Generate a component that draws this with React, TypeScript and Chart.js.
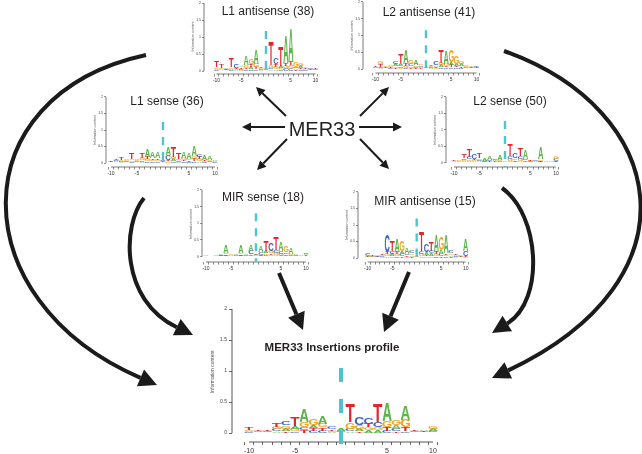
import React, { useEffect, useRef } from "react";
import { Chart, registerables } from "chart.js";
Chart.register(...registerables);

// ---------- data ----------
const POSITIONS = [-10, -9, -8, -7, -6, -5, -4, -3, -2, -1, 0, 1, 2, 3, 4, 5, 6, 7, 8, 9, 10];
const X_LABELLED = [-10, -5, 5, 10];
const Y_TICKS = [0, 0.5, 1, 1.5, 2];
const BASES = ["A", "C", "G", "T"];
const BASE_COLORS: Record<string, string> = { A: "#5cb547", C: "#3a62c4", G: "#f4a41e", T: "#e2262c" };
const Y_TITLE = "Information content";
const CENTER_LABEL = "MER33";

const L1_ANTISENSE_TITLE = "L1 antisense (38)";
const L1_ANTISENSE_A = [0.04, 0.03, 0.05, 0.04, 0.03, 0.05, 0.25, 0.06, 0.40, 0.03, 0.02, 0.05, 0.05, 0.06, 0.80, 1.00, 0.05, 0.06, 0.04, 0.03, 0.02];
const L1_ANTISENSE_C = [0.03, 0.02, 0.03, 0.03, 0.10, 0.04, 0.05, 0.05, 0.06, 0.03, 0.02, 0.05, 0.20, 0.05, 0.08, 0.07, 0.05, 0.05, 0.03, 0.03, 0.02];
const L1_ANTISENSE_G = [0.04, 0.03, 0.02, 0.05, 0.03, 0.03, 0.08, 0.15, 0.10, 0.03, 0.02, 0.07, 0.06, 0.05, 0.08, 0.10, 0.15, 0.06, 0.03, 0.02, 0.02];
const L1_ANTISENSE_T = [0.20, 0.12, 0.02, 0.25, 0.04, 0.04, 0.05, 0.08, 0.06, 0.04, 0.02, 0.70, 0.08, 0.55, 0.08, 0.10, 0.03, 0.05, 0.03, 0.02, 0.02];

const L2_ANTISENSE_TITLE = "L2 antisense (41)";
const L2_ANTISENSE_A = [0.03, 0.03, 0.03, 0.05, 0.06, 0.08, 0.40, 0.05, 0.15, 0.04, 0.02, 0.03, 0.05, 0.06, 0.40, 0.08, 0.06, 0.06, 0.04, 0.03, 0.03];
const L2_ANTISENSE_C = [0.02, 0.04, 0.02, 0.03, 0.06, 0.05, 0.04, 0.06, 0.04, 0.04, 0.01, 0.03, 0.10, 0.05, 0.05, 0.06, 0.05, 0.04, 0.03, 0.02, 0.03];
const L2_ANTISENSE_G = [0.02, 0.08, 0.03, 0.04, 0.05, 0.04, 0.06, 0.10, 0.05, 0.04, 0.02, 0.03, 0.03, 0.06, 0.06, 0.36, 0.25, 0.06, 0.03, 0.03, 0.02];
const L2_ANTISENSE_T = [0.03, 0.07, 0.02, 0.03, 0.03, 0.25, 0.07, 0.04, 0.03, 0.03, 0.01, 0.03, 0.04, 0.40, 0.05, 0.06, 0.05, 0.04, 0.02, 0.02, 0.02];

const L1_SENSE_TITLE = "L1 sense (36)";
const L1_SENSE_A = [0.02, 0.03, 0.03, 0.04, 0.05, 0.04, 0.04, 0.25, 0.18, 0.20, 0.03, 0.25, 0.06, 0.04, 0.20, 0.18, 0.30, 0.06, 0.15, 0.12, 0.03];
const L1_SENSE_C = [0.01, 0.03, 0.03, 0.03, 0.04, 0.03, 0.04, 0.05, 0.05, 0.05, 0.03, 0.14, 0.05, 0.04, 0.05, 0.04, 0.06, 0.07, 0.03, 0.03, 0.02];
const L1_SENSE_G = [0.01, 0.02, 0.03, 0.03, 0.04, 0.03, 0.06, 0.06, 0.05, 0.05, 0.02, 0.05, 0.06, 0.04, 0.06, 0.05, 0.08, 0.06, 0.03, 0.03, 0.02];
const L1_SENSE_T = [0.02, 0.04, 0.07, 0.02, 0.20, 0.02, 0.15, 0.06, 0.05, 0.05, 0.02, 0.05, 0.30, 0.19, 0.05, 0.04, 0.06, 0.06, 0.03, 0.02, 0.01];

const L2_SENSE_TITLE = "L2 sense (50)";
const L2_SENSE_A = [0.02, 0.02, 0.04, 0.05, 0.04, 0.04, 0.06, 0.12, 0.03, 0.14, 0.01, 0.05, 0.05, 0.05, 0.28, 0.02, 0.02, 0.35, 0.02, 0.02, 0.03];
const L2_SENSE_C = [0.01, 0.01, 0.05, 0.06, 0.17, 0.05, 0.03, 0.03, 0.03, 0.03, 0.01, 0.08, 0.16, 0.08, 0.05, 0.02, 0.02, 0.03, 0.01, 0.01, 0.06];
const L2_SENSE_G = [0.01, 0.02, 0.04, 0.05, 0.04, 0.05, 0.02, 0.02, 0.02, 0.03, 0.02, 0.07, 0.05, 0.07, 0.04, 0.02, 0.01, 0.04, 0.01, 0.01, 0.07];
const L2_SENSE_T = [0.02, 0.01, 0.11, 0.24, 0.04, 0.15, 0.01, 0.02, 0.02, 0.02, 0.01, 0.35, 0.03, 0.25, 0.03, 0.02, 0.01, 0.03, 0.01, 0.01, 0.03];

const MIR_SENSE_TITLE = "MIR sense (18)";
const MIR_SENSE_A = [0.02, 0.01, 0.02, 0.03, 0.22, 0.02, 0.05, 0.24, 0.03, 0.20, 0.04, 0.20, 0.06, 0.05, 0.06, 0.25, 0.05, 0.18, 0.03, 0.02, 0.03];
const MIR_SENSE_C = [0.01, 0.01, 0.01, 0.02, 0.04, 0.01, 0.02, 0.04, 0.02, 0.10, 0.02, 0.08, 0.05, 0.25, 0.08, 0.08, 0.05, 0.03, 0.02, 0.01, 0.03];
const MIR_SENSE_G = [0.01, 0.01, 0.01, 0.01, 0.04, 0.02, 0.02, 0.05, 0.02, 0.05, 0.02, 0.03, 0.05, 0.06, 0.06, 0.06, 0.18, 0.03, 0.02, 0.01, 0.02];
const MIR_SENSE_T = [0.01, 0.01, 0.01, 0.02, 0.03, 0.01, 0.01, 0.03, 0.01, 0.03, 0.02, 0.03, 0.30, 0.05, 0.38, 0.03, 0.03, 0.02, 0.01, 0.01, 0.02];

const MIR_ANTISENSE_TITLE = "MIR antisense (15)";
const MIR_ANTISENSE_A = [0.03, 0.02, 0.02, 0.03, 0.06, 0.07, 0.40, 0.08, 0.20, 0.05, 0.02, 0.05, 0.08, 0.08, 0.50, 0.10, 0.55, 0.05, 0.03, 0.03, 0.36];
const MIR_ANTISENSE_C = [0.08, 0.02, 0.03, 0.03, 0.50, 0.08, 0.06, 0.07, 0.05, 0.06, 0.01, 0.08, 0.25, 0.08, 0.06, 0.08, 0.05, 0.06, 0.03, 0.02, 0.14];
const MIR_ANTISENSE_G = [0.02, 0.02, 0.03, 0.03, 0.06, 0.06, 0.06, 0.33, 0.04, 0.05, 0.02, 0.07, 0.05, 0.06, 0.06, 0.40, 0.05, 0.05, 0.03, 0.03, 0.03];
const MIR_ANTISENSE_T = [0.02, 0.02, 0.02, 0.03, 0.06, 0.32, 0.06, 0.05, 0.04, 0.04, 0.01, 0.60, 0.05, 0.28, 0.06, 0.05, 0.05, 0.04, 0.03, 0.02, 0.03];

const MER33_TITLE = "MER33 Insertions profile";
const MER33_A = [0.02, 0.02, 0.01, 0.03, 0.04, 0.05, 0.20, 0.05, 0.13, 0.02, 0.03, 0.03, 0.04, 0.04, 0.04, 0.30, 0.06, 0.22, 0.01, 0.02, 0.03];
const MER33_C = [0.015, 0.01, 0.01, 0.03, 0.07, 0.03, 0.05, 0.04, 0.04, 0.03, 0.01, 0.04, 0.12, 0.10, 0.08, 0.04, 0.04, 0.03, 0.01, 0.01, 0.02];
const MER33_G = [0.02, 0.01, 0.01, 0.03, 0.05, 0.03, 0.08, 0.10, 0.06, 0.02, 0.01, 0.10, 0.06, 0.05, 0.05, 0.10, 0.09, 0.12, 0.01, 0.01, 0.03];
const MER33_T = [0.03, 0.02, 0.015, 0.07, 0.03, 0.14, 0.04, 0.04, 0.05, 0.02, 0.01, 0.30, 0.03, 0.06, 0.30, 0.06, 0.03, 0.06, 0.02, 0.01, 0.01];

// ---------- layout (pixel geometry, styles) ----------
type Geom = {
  yAxisPx: number; zeroPx: number; ux: number; y0: number; uy: number; axisY: number;
  titleX: number; titleY: number; big: boolean; dashTop: number;
};
type PanelSpec = { title: string; counts: Record<string, number[]>; g: Geom };

const FONT = '"Liberation Sans", Arial, Helvetica, sans-serif';
const DASH_COLOR = "#4fc3cf";
const INK = "#231f20";

const PANELS: PanelSpec[] = [
  { title: L1_ANTISENSE_TITLE, counts: { A: L1_ANTISENSE_A, C: L1_ANTISENSE_C, G: L1_ANTISENSE_G, T: L1_ANTISENSE_T },
    g: { yAxisPx: 204, zeroPx: 266, ux: 4.95, y0: 71, uy: 34, axisY: 74, titleX: 268, titleY: 12, big: false, dashTop: 1.18 } },
  { title: L2_ANTISENSE_TITLE, counts: { A: L2_ANTISENSE_A, C: L2_ANTISENSE_C, G: L2_ANTISENSE_G, T: L2_ANTISENSE_T },
    g: { yAxisPx: 363, zeroPx: 426, ux: 5.05, y0: 69, uy: 33.5, axisY: 73, titleX: 429, titleY: 13, big: false, dashTop: 1.16 } },
  { title: L1_SENSE_TITLE, counts: { A: L1_SENSE_A, C: L1_SENSE_C, G: L1_SENSE_G, T: L1_SENSE_T },
    g: { yAxisPx: 106, zeroPx: 163, ux: 5.2, y0: 163, uy: 33, axisY: 167, titleX: 167, titleY: 102, big: false, dashTop: 1.24 } },
  { title: L2_SENSE_TITLE, counts: { A: L2_SENSE_A, C: L2_SENSE_C, G: L2_SENSE_G, T: L2_SENSE_T },
    g: { yAxisPx: 446, zeroPx: 505, ux: 5.1, y0: 162.7, uy: 33, axisY: 167, titleX: 510, titleY: 102, big: false, dashTop: 1.26 } },
  { title: MIR_SENSE_TITLE, counts: { A: MIR_SENSE_A, C: MIR_SENSE_C, G: MIR_SENSE_G, T: MIR_SENSE_T },
    g: { yAxisPx: 202, zeroPx: 256, ux: 5.0, y0: 256.7, uy: 33.4, axisY: 262, titleX: 263, titleY: 198, big: false, dashTop: 1.3 } },
  { title: MIR_ANTISENSE_TITLE, counts: { A: MIR_ANTISENSE_A, C: MIR_ANTISENSE_C, G: MIR_ANTISENSE_G, T: MIR_ANTISENSE_T },
    g: { yAxisPx: 358, zeroPx: 416.7, ux: 4.9, y0: 258, uy: 33, axisY: 262, titleX: 425, titleY: 202, big: false, dashTop: 1.2 } },
  { title: MER33_TITLE, counts: { A: MER33_A, C: MER33_C, G: MER33_G, T: MER33_T },
    g: { yAxisPx: 232, zeroPx: 341, ux: 9.2, y0: 433, uy: 62, axisY: 442, titleX: 332, titleY: 348, big: true, dashTop: 1.05 } },
];

function computeLayout(g: Geom) {
  const yAxisW0 = g.big ? 24 : 15;
  const xAxisH0 = g.big ? 16 : 12;
  const xMin = -(g.zeroPx - g.yAxisPx) / g.ux;
  const xMax = 10.8;
  const yMin = -(g.axisY - g.y0) / g.uy;
  const yMax = 2.12;
  const chartW = (xMax - xMin) * g.ux;
  const chartTop = g.y0 - yMax * g.uy;
  const chartH = g.axisY - chartTop;
  const left = Math.floor(g.yAxisPx - yAxisW0);
  const yAxisW = g.yAxisPx - left;
  const top = Math.floor(chartTop - 6);
  const padTop = chartTop - top;
  const width = Math.ceil(yAxisW + chartW + 8);
  const padRight = width - yAxisW - chartW;
  const height = Math.ceil(padTop + chartH + xAxisH0);
  const xAxisH = height - padTop - chartH;
  return { xMin, xMax, yMin, yMax, left, top, width, height, yAxisW, xAxisH, padTop, padRight };
}

function buildRanks(counts: Record<string, number[]>) {
  const ranks: { x: number; y: number }[][] = [[], [], [], []];
  const letters: string[][] = [[], [], [], []];
  POSITIONS.forEach((p, j) => {
    const items = BASES.map((b) => ({ b, h: counts[b][j] })).sort((a, c) => a.h - c.h);
    items.forEach((it, r) => {
      ranks[r].push({ x: p, y: it.h });
      letters[r].push(it.b);
    });
  });
  return { ranks, letters };
}

function LogoPanel({ spec }: { spec: PanelSpec }) {
  const ref = useRef<HTMLCanvasElement>(null);
  const L = computeLayout(spec.g);
  useEffect(() => {
    const canvas = ref.current;
    if (!canvas) return;
    const g = spec.g;
    const { ranks, letters } = buildRanks(spec.counts);
    const tickFont = g.big ? 7 : 5;
    const yFont = g.big ? 5 : 3.5;

    const logoPlugin = {
      id: "logoLetters",
      afterDatasetsDraw(chart: any) {
        const ctx = chart.ctx as CanvasRenderingContext2D;
        ctx.save();
        ctx.font = `bold 100px ${FONT}`;
        ctx.textAlign = "left";
        ctx.textBaseline = "alphabetic";
        chart.data.datasets.forEach((_ds: any, r: number) => {
          const meta = chart.getDatasetMeta(r);
          meta.data.forEach((el: any, j: number) => {
            const { x, y, base, width } = el.getProps(["x", "y", "base", "width"], true);
            const h = base - y;
            if (h < 0.3) return;
            const letter = letters[r][j];
            const m = ctx.measureText(letter);
            const gl = m.actualBoundingBoxLeft;
            const gw = m.actualBoundingBoxLeft + m.actualBoundingBoxRight;
            const ga = m.actualBoundingBoxAscent;
            const gh = m.actualBoundingBoxAscent + m.actualBoundingBoxDescent;
            ctx.save();
            ctx.translate(x - width / 2, y);
            ctx.scale(width / gw, h / gh);
            ctx.fillStyle = BASE_COLORS[letter];
            ctx.fillText(letter, gl, ga);
            ctx.restore();
          });
        });
        ctx.restore();
      },
      afterDraw(chart: any) {
        const ctx = chart.ctx as CanvasRenderingContext2D;
        const xs = chart.scales.x;
        const ys = chart.scales.y;
        const area = chart.chartArea;
        ctx.save();
        ctx.strokeStyle = "#444";
        ctx.lineWidth = g.big ? 0.9 : 0.7;
        ctx.beginPath();
        ctx.moveTo(xs.getPixelForValue(POSITIONS[0]), area.bottom);
        ctx.lineTo(xs.getPixelForValue(POSITIONS[POSITIONS.length - 1]), area.bottom);
        ctx.moveTo(area.left, ys.getPixelForValue(Y_TICKS[0]));
        ctx.lineTo(area.left, ys.getPixelForValue(Y_TICKS[Y_TICKS.length - 1]));
        ctx.stroke();
        ctx.strokeStyle = DASH_COLOR;
        ctx.lineWidth = g.big ? 4 : 2.4;
        ctx.setLineDash(g.big ? [14, 17] : [8, 7]);
        ctx.beginPath();
        const zx = xs.getPixelForValue(0);
        ctx.moveTo(zx, ys.getPixelForValue(g.dashTop));
        ctx.lineTo(zx, area.bottom + (g.big ? 6 : 0));
        ctx.stroke();
        ctx.setLineDash([]);
        ctx.fillStyle = INK;
        ctx.font = g.big ? `bold 11.5px ${FONT}` : `12px ${FONT}`;
        ctx.textAlign = "center";
        ctx.textBaseline = "middle";
        ctx.fillText(spec.title, g.titleX - L.left, g.titleY - L.top);
        ctx.restore();
      },
    };

    const chart = new Chart(canvas, {
      type: "bar",
      data: {
        datasets: ranks.map((data, r) => ({
          label: "rank" + r,
          data,
          backgroundColor: "rgba(0,0,0,0)",
          borderWidth: 0,
          barPercentage: 1,
          categoryPercentage: 1,
        })),
      },
      options: {
        responsive: false,
        animation: false,
        devicePixelRatio: 1,
        events: [],
        layout: { padding: { top: L.padTop, right: L.padRight, left: 0, bottom: 0 } },
        plugins: { legend: { display: false }, tooltip: { enabled: false }, title: { display: false } },
        scales: {
          x: {
            type: "linear",
            min: L.xMin,
            max: L.xMax,
            stacked: true,
            offset: false,
            afterBuildTicks: (s: any) => {
              s.ticks = POSITIONS.map((v) => ({ value: v }));
            },
            afterFit: (s: any) => {
              s.height = L.xAxisH;
            },
            grid: { display: true, drawOnChartArea: false, drawTicks: true, tickLength: g.big ? 3 : 2.5, color: "#444", lineWidth: g.big ? 0.8 : 0.6 },
            border: { display: false },
            ticks: {
              autoSkip: false,
              maxRotation: 0,
              color: "#333",
              padding: g.big ? 1.5 : 1,
              font: { size: tickFont, family: FONT },
              callback: (v: any) => (X_LABELLED.includes(Number(v)) ? String(v) : ""),
            },
          },
          y: {
            type: "linear",
            min: L.yMin,
            max: L.yMax,
            stacked: true,
            afterBuildTicks: (s: any) => {
              s.ticks = Y_TICKS.map((v) => ({ value: v }));
            },
            afterFit: (s: any) => {
              s.width = L.yAxisW;
            },
            grid: { display: true, drawOnChartArea: false, drawTicks: true, tickLength: g.big ? 3 : 2, color: "#444", lineWidth: g.big ? 0.8 : 0.6 },
            border: { display: false },
            ticks: {
              autoSkip: false,
              color: "#444",
              padding: g.big ? 2 : 1,
              font: { size: yFont, family: FONT },
              callback: (v: any) => String(v),
            },
            title: {
              display: true,
              text: Y_TITLE,
              color: "#555",
              font: { size: yFont, family: FONT },
              padding: { top: 2, bottom: 0 },
            },
          },
        },
      } as any,
      plugins: [logoPlugin],
    });
    return () => chart.destroy();
  }, [spec]);

  return (
    <canvas
      ref={ref}
      width={L.width}
      height={L.height}
      style={{ position: "absolute", left: L.left, top: L.top, width: L.width, height: L.height }}
    />
  );
}

// ---------- arrows (overlay) ----------
type Pt = [number, number];
const CURVED_ARROWS: Pt[][] = [
  [[146, 55], [-40, 95], [-40, 300], [157, 385]],
  [[144, 198], [122, 225], [120, 300], [193, 335]],
  [[504, 51], [670, 110], [700, 280], [492, 378]],
  [[502, 188], [540, 215], [545, 300], [492, 333]],
];
const THICK_STRAIGHT: Pt[][] = [
  [[279, 273], [303, 330]],
  [[409, 272], [384, 332]],
];
const THIN_STRAIGHT: Pt[][] = [
  [[286, 116], [256, 87]],
  [[285, 127], [242, 127]],
  [[287, 139], [257, 170]],
  [[360, 116], [389, 87]],
  [[359, 127], [402, 127]],
  [[360, 139], [389, 169]],
];

function head(tip: Pt, from: Pt, len: number, hw: number) {
  const dx = tip[0] - from[0];
  const dy = tip[1] - from[1];
  const d = Math.hypot(dx, dy) || 1;
  const ux = dx / d, uy = dy / d;
  const bx = tip[0] - ux * len, by = tip[1] - uy * len;
  const pts = [
    [tip[0], tip[1]],
    [bx - uy * hw, by + ux * hw],
    [bx + uy * hw, by - ux * hw],
  ];
  return { base: [bx, by] as Pt, points: pts.map((p) => p.join(",")).join(" ") };
}

function Arrows() {
  const col = "#1b1b1b";
  return (
    <svg width={642} height={454} style={{ position: "absolute", left: 0, top: 0, pointerEvents: "none" }}>
      {CURVED_ARROWS.map(([p0, p1, p2, p3], i) => {
        const h = head(p3, p2, 18, 9);
        return (
          <g key={"c" + i}>
            <path
              d={`M${p0[0]},${p0[1]} C${p1[0]},${p1[1]} ${p2[0]},${p2[1]} ${h.base[0]},${h.base[1]}`}
              fill="none"
              stroke={col}
              strokeWidth={4}
            />
            <polygon points={h.points} fill={col} />
          </g>
        );
      })}
      {THICK_STRAIGHT.map(([a, b], i) => {
        const h = head(b, a, 17, 9);
        return (
          <g key={"t" + i}>
            <line x1={a[0]} y1={a[1]} x2={h.base[0]} y2={h.base[1]} stroke={col} strokeWidth={4} />
            <polygon points={h.points} fill={col} />
          </g>
        );
      })}
      {THIN_STRAIGHT.map(([a, b], i) => {
        const h = head(b, a, 9, 4.5);
        return (
          <g key={"s" + i}>
            <line x1={a[0]} y1={a[1]} x2={h.base[0]} y2={h.base[1]} stroke={col} strokeWidth={2} />
            <polygon points={h.points} fill={col} />
          </g>
        );
      })}
      <text x={322} y={136} textAnchor="middle" fontFamily={FONT} fontSize={20} fill={INK}>
        {CENTER_LABEL}
      </text>
    </svg>
  );
}

export default function App() {
  return (
    <div style={{ position: "fixed", left: 0, top: 0, width: 642, height: 454, background: "#fff", overflow: "hidden" }}>
      {PANELS.map((p) => (
        <LogoPanel key={p.title} spec={p} />
      ))}
      <Arrows />
    </div>
  );
}
